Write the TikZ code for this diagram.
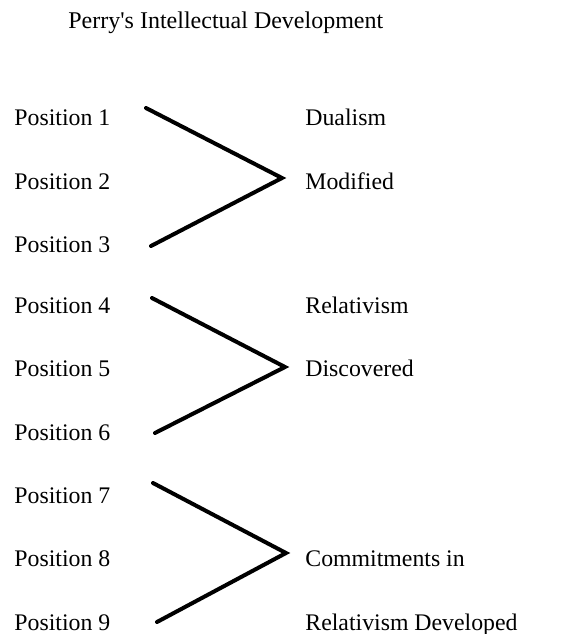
\documentclass[tikz,border=0pt]{standalone}
\usepackage{fontspec}
\setmainfont{Liberation Serif}
\begin{document}
\begin{tikzpicture}[x=0.5pt,y=-0.5pt,
  lbl/.style={anchor=base west, inner sep=0pt, font=\fontsize{11.9}{14}\selectfont},
  bracket/.style={line width=2pt, line cap=round, line join=miter}]
\useasboundingbox (0,0) rectangle (570,634);
\node[lbl, font=\fontsize{12}{15}\selectfont] (title) at (68,28) {Perry\textquotesingle s Intellectual Development};
% left column
\node[lbl] (p1) at (14,125) {Position 1};
\node[lbl] (p2) at (14,189) {Position 2};
\node[lbl] (p3) at (14,252) {Position 3};
\node[lbl] (p4) at (14,313) {Position 4};
\node[lbl] (p5) at (14,376) {Position 5};
\node[lbl] (p6) at (14,440) {Position 6};
\node[lbl] (p7) at (14,503) {Position 7};
\node[lbl] (p8) at (14,566) {Position 8};
\node[lbl] (p9) at (14,630) {Position 9};
% right column
\node[lbl] (r1) at (305,125) {Dualism};
\node[lbl] (r2) at (305,189) {Modified};
\node[lbl] (r3) at (305,313) {Relativism};
\node[lbl] (r4) at (305,376) {Discovered};
\node[lbl] (r5) at (305,566) {Commitments in};
\node[lbl] (r6) at (305,630) {Relativism Developed};
% brackets
\coordinate (a1) at (146,108); \coordinate (v1) at (282,178); \coordinate (b1) at (151,246);
\coordinate (a2) at (152,298); \coordinate (v2) at (285,367); \coordinate (b2) at (155,433);
\coordinate (a3) at (153,483); \coordinate (v3) at (286,553); \coordinate (b3) at (157,622);
\draw[bracket] (a1) -- (v1) -- (b1);
\draw[bracket] (a2) -- (v2) -- (b2);
\draw[bracket] (a3) -- (v3) -- (b3);
\end{tikzpicture}
\end{document}
